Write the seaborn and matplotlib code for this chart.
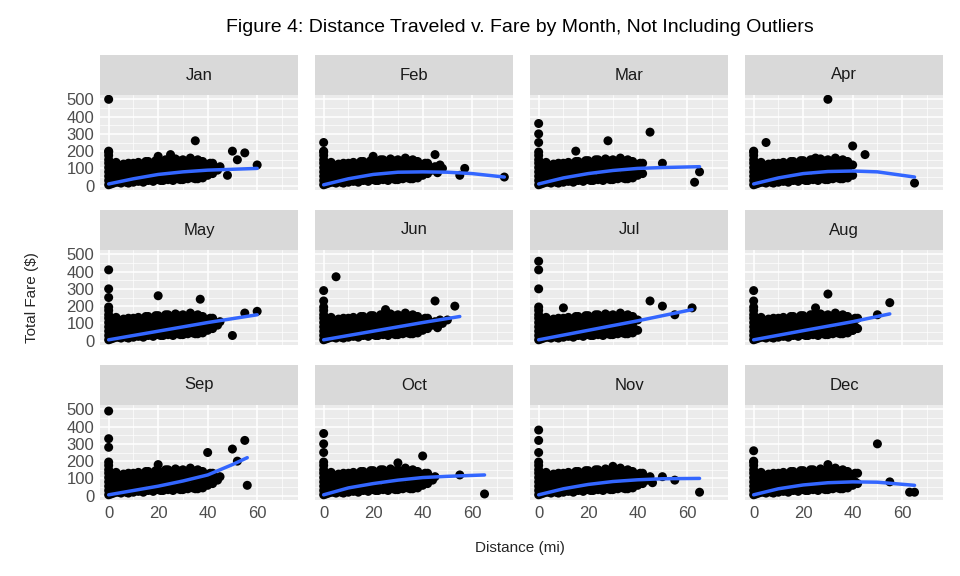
import numpy as np
import pandas as pd
import matplotlib
matplotlib.use("Agg")
import matplotlib.pyplot as plt
import seaborn as sns

months = ["Jan", "Feb", "Mar", "Apr", "May", "Jun", "Jul", "Aug", "Sep", "Oct", "Nov", "Dec"]

# dense cloud of trips (distance mi, fare $)
cloud_x = [0, 0, 0, 0, 0, 0, 0, 0, 0, 1, 1, 1, 1, 2, 2, 2, 3, 3, 3, 4, 4, 4, 5, 5, 5, 6, 6, 6,
           7, 7, 7, 8, 8, 8, 9, 9, 9, 10, 10, 10, 11, 11, 11, 12, 12, 12, 13, 13, 13, 14, 14, 14,
           15, 15, 15, 16, 16, 16, 17, 17, 17, 18, 18, 18, 19, 19, 19, 20, 20, 20, 21, 21, 21,
           22, 22, 22, 23, 23, 23, 24, 24, 24, 25, 25, 25, 26, 26, 26, 27, 27, 27, 28, 28, 28,
           29, 29, 29, 30, 30, 30, 31, 31, 31, 32, 32, 32, 33, 33, 33, 34, 34, 34, 35, 35, 35,
           36, 36, 36, 37, 37, 37, 38, 38, 38, 39, 39, 40, 40, 41, 41, 42, 42, 43, 44, 45, 46, 47, 48]
cloud_y = [5, 30, 55, 80, 105, 130, 150, 175, 195, 10, 45, 85, 120, 15, 60, 110, 20, 70, 135,
           20, 65, 120, 15, 50, 100, 25, 75, 125, 20, 60, 110, 15, 75, 130, 30, 65, 115,
           20, 70, 130, 35, 85, 120, 25, 80, 135, 30, 60, 110, 20, 75, 125, 35, 90, 140,
           30, 85, 140, 40, 70, 115, 25, 80, 130, 45, 95, 145, 35, 90, 145, 30, 70, 120,
           30, 85, 130, 40, 100, 150, 35, 90, 150, 45, 75, 125, 30, 95, 140, 50, 110, 155,
           40, 90, 145, 35, 80, 130, 35, 100, 150, 45, 85, 135, 40, 95, 140, 50, 110, 160,
           45, 100, 145, 40, 75, 125, 40, 105, 150, 50, 95, 140, 45, 100, 140, 65, 120,
           60, 120, 80, 130, 70, 130, 100, 90, 110, 75, 120, 100]
cloud_max = [45, 50, 42, 40, 45, 48, 40, 42, 45, 45, 46, 42]

extra_x = {
    "Jan": [0, 0, 35, 50, 55, 60, 48, 52, 20, 25], "Feb": [0, 0, 57, 73, 55, 45, 20],
    "Mar": [0, 0, 0, 45, 28, 65, 63, 50, 15], "Apr": [30, 5, 40, 65, 45, 0, 25],
    "May": [0, 0, 0, 20, 37, 60, 50, 55], "Jun": [5, 0, 0, 53, 45, 50, 25],
    "Jul": [0, 0, 0, 45, 62, 50, 55, 10], "Aug": [0, 0, 30, 55, 40, 50, 25],
    "Sep": [0, 0, 0, 50, 55, 40, 56, 52, 20], "Oct": [0, 0, 0, 40, 65, 55, 30],
    "Nov": [0, 0, 0, 65, 55, 50, 30], "Dec": [0, 50, 63, 65, 0, 55, 30],
}
extra_y = {
    "Jan": [500, 200, 260, 200, 190, 120, 60, 150, 170, 180], "Feb": [250, 200, 100, 50, 60, 180, 170],
    "Mar": [360, 300, 250, 310, 260, 80, 20, 130, 200], "Apr": [500, 250, 230, 15, 180, 200, 160],
    "May": [410, 300, 250, 260, 240, 170, 30, 160], "Jun": [370, 290, 230, 200, 230, 120, 180],
    "Jul": [460, 410, 300, 230, 190, 200, 150, 190], "Aug": [290, 230, 270, 220, 60, 150, 190],
    "Sep": [490, 330, 280, 270, 320, 250, 60, 200, 180], "Oct": [360, 300, 250, 230, 10, 120, 190],
    "Nov": [380, 320, 250, 20, 90, 110, 170], "Dec": [260, 300, 20, 20, 200, 80, 180],
}

# fitted smooth
smooth_x = {
    "Jan": [0, 10, 20, 30, 40, 50, 60], "Feb": [0, 10, 20, 30, 40, 50, 60, 73],
    "Mar": [0, 10, 20, 30, 40, 50, 65], "Apr": [0, 10, 20, 30, 40, 50, 65],
    "May": [0, 20, 40, 60], "Jun": [0, 20, 40, 55], "Jul": [0, 20, 40, 62],
    "Aug": [0, 20, 40, 55], "Sep": [0, 10, 20, 30, 40, 50, 56],
    "Oct": [0, 10, 20, 30, 40, 50, 65], "Nov": [0, 10, 20, 30, 40, 50, 65],
    "Dec": [0, 10, 20, 30, 40, 50, 65],
}
smooth_y = {
    "Jan": [10, 40, 65, 80, 90, 95, 100], "Feb": [5, 40, 65, 78, 80, 78, 70, 50],
    "Mar": [10, 45, 70, 88, 100, 105, 110], "Apr": [10, 45, 70, 82, 85, 80, 50],
    "May": [5, 55, 105, 150], "Jun": [5, 55, 105, 140], "Jul": [5, 60, 115, 180],
    "Aug": [5, 58, 110, 155], "Sep": [5, 30, 55, 85, 120, 180, 220],
    "Oct": [5, 45, 70, 90, 105, 112, 120], "Nov": [5, 40, 65, 82, 92, 98, 100],
    "Dec": [5, 40, 62, 75, 80, 78, 60],
}

sns.set_style("white")
plt.rcParams["font.family"] = ["Liberation Sans", "DejaVu Sans"]

fig = plt.figure(figsize=(9.6, 5.76), dpi=100)
W, H = 960, 576
col_left = [100, 315, 530, 745]
pw = 198
rows = [(55, 95, 190), (210, 250, 345), (365, 405, 500)]

for i, m in enumerate(months):
    r, c = divmod(i, 4)
    st, top, bot = rows[r]
    x0 = col_left[c]
    ax = fig.add_axes([x0 / W, 1 - bot / H, pw / W, (bot - top) / H])
    sax = fig.add_axes([x0 / W, 1 - top / H, pw / W, (top - st) / H])
    sax.set_facecolor("#D9D9D9")
    sax.set_xticks([]); sax.set_yticks([])
    for s in sax.spines.values():
        s.set_visible(False)
    sax.text(0.5, 0.5, m, ha="center", va="center", fontsize=12, color="#1A1A1A", transform=sax.transAxes)

    keep = [k for k in range(len(cloud_x)) if cloud_x[k] <= cloud_max[i]]
    df = pd.DataFrame({"dist": [cloud_x[k] for k in keep] + extra_x[m],
                       "fare": [cloud_y[k] for k in keep] + extra_y[m]})
    ax.set_facecolor("#EBEBEB")
    ax.set_axisbelow(True)
    ax.set_xticks([0, 20, 40, 60]); ax.set_xticks([10, 30, 50, 70], minor=True)
    ax.set_yticks([0, 100, 200, 300, 400, 500]); ax.set_yticks([50, 150, 250, 350, 450], minor=True)
    ax.grid(which="major", color="white", lw=1.1)
    ax.grid(which="minor", color="white", lw=0.5)
    sns.scatterplot(data=df, x="dist", y="fare", ax=ax, color="black", s=42, edgecolor="none", zorder=3)
    sns.lineplot(x=smooth_x[m], y=smooth_y[m], ax=ax, color="#3366FF", lw=2.5, zorder=4)
    ax.set_xlim(-3.5, 76.5)
    ax.set_ylim(-25, 525)
    for s in ax.spines.values():
        s.set_visible(False)
    ax.set_xlabel(""); ax.set_ylabel("")
    ax.tick_params(which="minor", length=0)
    ax.tick_params(which="major", color="#333333", length=3, labelsize=12, labelcolor="#4D4D4D", pad=1)
    if c != 0:
        ax.tick_params(axis="y", which="major", length=0, labelleft=False)
    if r != 2:
        ax.tick_params(axis="x", which="major", length=0, labelbottom=False)

fig.text(520 / W, 1 - 27 / H, "Figure 4: Distance Traveled v. Fare by Month, Not Including Outliers",
         ha="center", va="center", fontsize=14, color="black")
fig.text(520 / W, 1 - 548 / H, "Distance (mi)", ha="center", va="center", fontsize=11)
fig.text(32 / W, 1 - 298 / H, "Total Fare ($)", ha="center", va="center", fontsize=11, rotation=90)

fig.savefig("out.png", dpi=100)
